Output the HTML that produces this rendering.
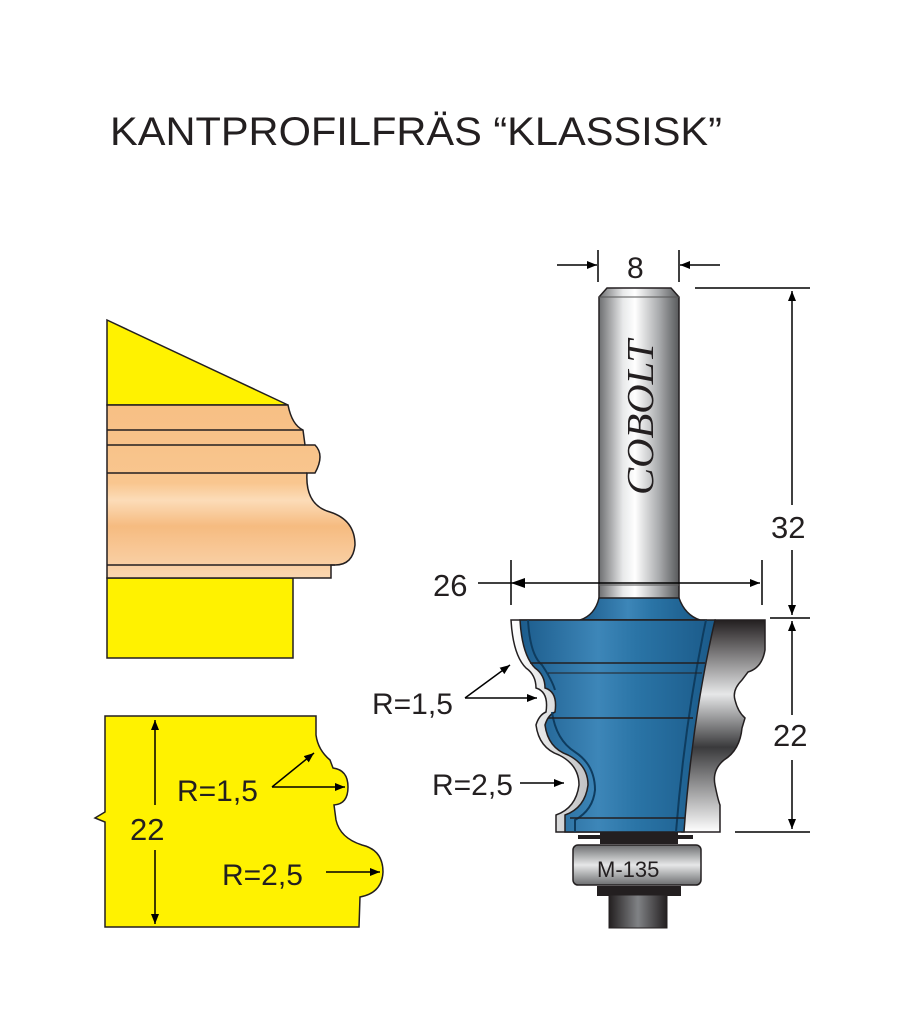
<!DOCTYPE html>
<html><head><meta charset="utf-8"><style>
html,body{margin:0;padding:0;background:#fff;width:914px;height:1024px;overflow:hidden}
svg{display:block}
.t{font-family:"Liberation Sans",sans-serif;fill:#231f20}
</style></head><body>
<svg width="914" height="1024" viewBox="0 0 914 1024" xmlns="http://www.w3.org/2000/svg">
<defs>
<linearGradient id="wood" x1="0" y1="0" x2="0" y2="1">
<stop offset="0" stop-color="#f7bf84"/><stop offset="0.45" stop-color="#f9c68f"/><stop offset="0.55" stop-color="#fcdcb8"/><stop offset="0.7" stop-color="#f6bb80"/><stop offset="1" stop-color="#fad6b0"/></linearGradient>
<linearGradient id="shank" x1="0" y1="0" x2="1" y2="0">
<stop offset="0" stop-color="#6d6e70"/><stop offset="0.3" stop-color="#e8e9ea"/><stop offset="0.45" stop-color="#ffffff"/><stop offset="0.75" stop-color="#a9abad"/><stop offset="1" stop-color="#58595b"/></linearGradient>
<linearGradient id="blue" x1="0" y1="0" x2="1" y2="0">
<stop offset="0" stop-color="#1c5c8c"/><stop offset="0.4" stop-color="#3d86b8"/><stop offset="0.6" stop-color="#2a74a6"/><stop offset="1" stop-color="#1b5a89"/></linearGradient>
<linearGradient id="silv" x1="0" y1="0" x2="1" y2="0">
<stop offset="0" stop-color="#ffffff"/><stop offset="0.5" stop-color="#b0b2b4"/><stop offset="1" stop-color="#231f20"/></linearGradient>
<linearGradient id="silvR" x1="0" y1="0" x2="0" y2="1">
<stop offset="0" stop-color="#231f20"/><stop offset="0.35" stop-color="#e6e7e8"/><stop offset="0.6" stop-color="#3a3a3c"/><stop offset="1" stop-color="#ffffff"/></linearGradient>
<linearGradient id="bear" x1="0" y1="0" x2="0" y2="1">
<stop offset="0" stop-color="#6d6e70"/><stop offset="0.5" stop-color="#e6e7e8"/><stop offset="1" stop-color="#6d6e70"/></linearGradient>
<linearGradient id="dark" x1="0" y1="0" x2="1" y2="0">
<stop offset="0" stop-color="#231f20"/><stop offset="0.5" stop-color="#808285"/><stop offset="1" stop-color="#231f20"/></linearGradient>
<marker id="ah" viewBox="0 0 10 10" refX="10" refY="5" markerWidth="10" markerHeight="10" orient="auto-start-reverse" markerUnits="userSpaceOnUse"><path d="M0,1 L10,5 L0,9z" fill="#000"/></marker>
</defs>

<text class="t" x="110" y="145" font-size="40" textLength="612" lengthAdjust="spacingAndGlyphs">KANTPROFILFRÄS “KLASSISK”</text>

<!-- top-left drawing -->
<path d="M107,320 L288,405 L107,405Z" fill="#fff200" stroke="#231f20" stroke-width="1.5"/>
<rect x="107" y="578" width="186" height="80" fill="#fff200" stroke="#231f20" stroke-width="1.5"/>
<path d="M107,405 L288,405 Q292,425 303,430 L305,445 L315,445 Q325,455 315,473 L307,473 Q305,505 330,512 Q355,520 355,545 Q353,565 335,565 L331,565 L331,578 L107,578Z" fill="url(#wood)" stroke="#231f20" stroke-width="1.5"/>
<path d="M107,430 L303,430 M107,445 L305,445 M107,473 L307,473 M107,565 L335,565" stroke="#231f20" stroke-width="1.5"/>

<!-- bottom-left profile -->
<path d="M105,716 L316,716 L316,735 Q318,750 330,760 L333,768 Q348,770 348,787 Q348,804 334,805 L336,820 Q340,838 362,845 Q383,850 383,872 Q382,893 360,897 L359,927 L105,927 L105,822 L95,818 L105,812Z" fill="#fff200" stroke="#231f20" stroke-width="1.5"/>
<line x1="155" y1="720" x2="155" y2="805" stroke="#000" stroke-width="1.5" marker-start="url(#ah)"/>
<line x1="155" y1="850" x2="155" y2="924" stroke="#000" stroke-width="1.5" marker-end="url(#ah)"/>
<text class="t" x="130" y="840" font-size="31">22</text>
<text class="t" x="177" y="801" font-size="30">R=1,5</text>
<line x1="272" y1="787" x2="314" y2="753" stroke="#000" stroke-width="1.5" marker-end="url(#ah)"/>
<line x1="272" y1="787" x2="345" y2="787" stroke="#000" stroke-width="1.5" marker-end="url(#ah)"/>
<text class="t" x="222" y="885" font-size="30">R=2,5</text>
<line x1="326" y1="872" x2="380" y2="872" stroke="#000" stroke-width="1.5" marker-end="url(#ah)"/>

<!-- dimension 8 -->
<line x1="598" y1="250" x2="598" y2="282" stroke="#000" stroke-width="1.5"/>
<line x1="679" y1="250" x2="679" y2="282" stroke="#000" stroke-width="1.5"/>
<line x1="557" y1="265" x2="597" y2="265" stroke="#000" stroke-width="1.5" marker-end="url(#ah)"/>
<line x1="720" y1="265" x2="680" y2="265" stroke="#000" stroke-width="1.5" marker-end="url(#ah)"/>
<text class="t" x="627" y="278" font-size="30">8</text>

<!-- shank -->
<path d="M599,297 L607,288 L671,288 L679,297 L679,600 L599,600Z" fill="url(#shank)" stroke="#231f20" stroke-width="1.5"/>
<line x1="599" y1="297" x2="679" y2="297" stroke="#555" stroke-width="1"/>
<line x1="599" y1="585" x2="679" y2="585" stroke="#555" stroke-width="1"/>
<text transform="translate(653,495) rotate(-90)" style="font-family:'Liberation Serif',serif;font-style:italic;fill:#231f20" font-size="38" textLength="155" lengthAdjust="spacingAndGlyphs">COBOLT</text>

<!-- dim 32 / 22 -->
<line x1="695" y1="288" x2="810" y2="288" stroke="#000" stroke-width="1.5"/>
<line x1="770" y1="618" x2="810" y2="618" stroke="#000" stroke-width="1.5"/>
<line x1="735" y1="832" x2="810" y2="832" stroke="#000" stroke-width="1.5"/>
<line x1="792" y1="291" x2="792" y2="505" stroke="#000" stroke-width="1.5" marker-start="url(#ah)"/>
<line x1="792" y1="550" x2="792" y2="615" stroke="#000" stroke-width="1.5" marker-end="url(#ah)"/>
<text class="t" x="771" y="538" font-size="31">32</text>
<line x1="792" y1="621" x2="792" y2="715" stroke="#000" stroke-width="1.5" marker-start="url(#ah)"/>
<line x1="792" y1="760" x2="792" y2="829" stroke="#000" stroke-width="1.5" marker-end="url(#ah)"/>
<text class="t" x="773" y="746" font-size="31">22</text>

<!-- dim 26 -->
<line x1="511" y1="560" x2="511" y2="605" stroke="#000" stroke-width="1.5"/>
<line x1="762" y1="560" x2="762" y2="605" stroke="#000" stroke-width="1.5"/>
<line x1="478" y1="583" x2="760" y2="583" stroke="#000" stroke-width="1.5" marker-end="url(#ah)"/>
<path d="M511,583 L525,578 L525,588Z" fill="#000"/>
<text class="t" x="433" y="596" font-size="31">26</text>

<!-- cutter body -->
<path d="M599,598 L679,598 Q685,615 700,620 L580,620 Q595,615 599,598Z" fill="url(#blue)" stroke="#231f20" stroke-width="1.5"/>
<!-- right silver -->
<path d="M715,620 L765,620 L765,650 Q762,668 748,672 L742,680 Q732,690 735,700 Q738,712 745,718 L742,728 Q740,750 724,760 Q712,770 715,785 Q718,800 720,805 L720,832 L682,832 Q690,720 715,620Z" fill="url(#silvR)" stroke="#231f20" stroke-width="1.5"/>
<!-- left silver band: blue profile shifted left -->
<path transform="translate(-9,0)" d="M520,620 L715,620 Q692,720 684,832 L565,832 L565,815 Q585,808 588,785 Q588,765 568,755 Q548,748 545,725 Q548,715 555,712 Q558,692 545,688 Q545,675 535,668 Q522,655 520,620Z" fill="url(#silv)" stroke="#231f20" stroke-width="1.5"/>
<!-- blue main -->
<path d="M520,620 L715,620 Q692,720 684,832 L565,832 L565,815 Q585,808 588,785 Q588,765 568,755 Q548,748 545,725 Q548,715 555,712 Q558,692 545,688 Q545,675 535,668 Q522,655 520,620Z" fill="url(#blue)" stroke="#231f20" stroke-width="1.5"/>
<path d="M528,620 Q530,655 542,665 Q552,680 555,690 M552,712 Q556,740 575,752 Q595,765 595,790 Q593,810 575,820 L575,832 M706,620 Q685,720 676,832" fill="none" stroke="#0e3c5f" stroke-width="2"/>
<line x1="530" y1="663" x2="705" y2="663" stroke="#231f20" stroke-width="1.5"/>
<line x1="548" y1="673" x2="702" y2="673" stroke="#231f20" stroke-width="1"/>
<line x1="548" y1="718" x2="693" y2="718" stroke="#231f20" stroke-width="1.5"/>
<line x1="570" y1="818" x2="685" y2="818" stroke="#231f20" stroke-width="1.5"/>

<!-- bearing -->
<rect x="578" y="835" width="115" height="4" fill="#231f20"/>
<rect x="600" y="832" width="78" height="12" fill="#231f20"/>
<rect x="573" y="845" width="128" height="40" rx="5" fill="url(#bear)" stroke="#231f20" stroke-width="1.5"/>
<text class="t" x="597" y="877" font-size="22" fill="#333">M-135</text>
<rect x="597" y="886" width="84" height="10" fill="#231f20"/>
<rect x="609" y="895" width="58" height="33" fill="url(#dark)" stroke="#231f20" stroke-width="1"/>

<!-- R labels right -->
<text class="t" x="372" y="714" font-size="30">R=1,5</text>
<line x1="465" y1="698" x2="510" y2="665" stroke="#000" stroke-width="1.5" marker-end="url(#ah)"/>
<line x1="465" y1="698" x2="537" y2="698" stroke="#000" stroke-width="1.5" marker-end="url(#ah)"/>
<text class="t" x="432" y="795" font-size="30">R=2,5</text>
<line x1="520" y1="783" x2="564" y2="783" stroke="#000" stroke-width="1.5" marker-end="url(#ah)"/>
</svg>
</body></html>
